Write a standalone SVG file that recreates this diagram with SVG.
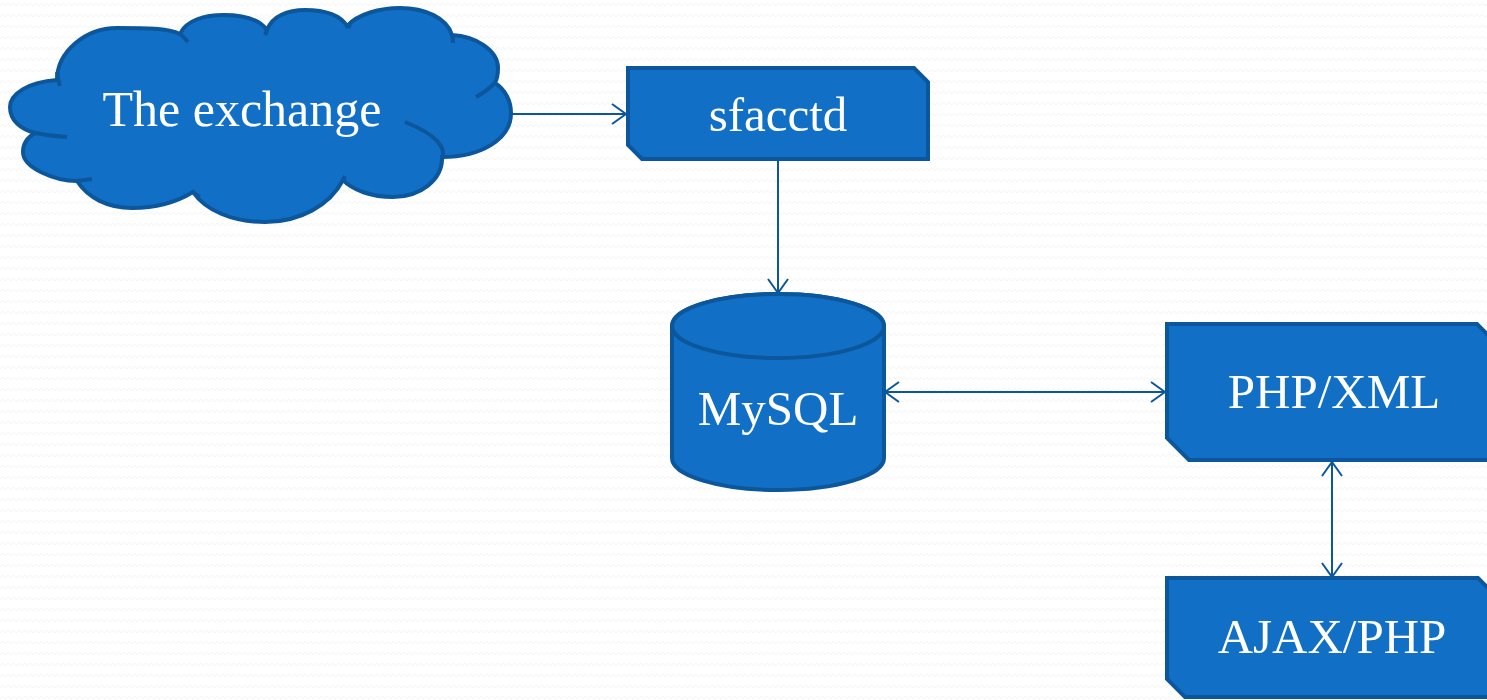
<svg xmlns="http://www.w3.org/2000/svg" width="1487" height="700" viewBox="0 0 1487 700">
<defs>
<style>
.shape{fill:#1170C6;stroke:#0C579C;stroke-width:4;stroke-linejoin:miter}
.inner{fill:none;stroke:#0C579C;stroke-width:4;stroke-linecap:butt}
.label{font-family:"Liberation Serif","DejaVu Serif",serif;font-size:49px;fill:#ffffff;text-anchor:middle}
.conn{fill:none;stroke:#0C579C;stroke-width:2}
</style>
<pattern id="zig" width="11" height="11" patternUnits="userSpaceOnUse">
<polyline points="0,6 2.75,3 5.5,6 8.25,3 11,6" fill="none" stroke="#f4f4f4" stroke-width="1"/>
</pattern>
<marker id="arr" markerUnits="userSpaceOnUse" viewBox="0 0 16 22" markerWidth="16" markerHeight="22" refX="15" refY="11" orient="auto-start-reverse">
<path d="M1,1 L15,11 L1,21" fill="none" stroke="#0C579C" stroke-width="2"/>
</marker>
</defs>
<rect width="1487" height="700" fill="#ffffff"/>
<rect width="1487" height="700" fill="url(#zig)"/>

<g id="connectors">
<path class="conn" d="M510,114 H626" marker-end="url(#arr)"/>
<path class="conn" d="M778,161 V293" marker-end="url(#arr)"/>
<path class="conn" d="M885,392 H1165" marker-start="url(#arr)" marker-end="url(#arr)"/>
<path class="conn" d="M1332,462 V577" marker-start="url(#arr)" marker-end="url(#arr)"/>
</g>

<g id="cloud">
<path class="shape" d="M57,80 C57,52 85,28 117,28 C145,28 168,28 180,34 C186,20 205,15 224,15 C245,15 260,20 267,30 C272,16 288,10 305,10 C325,10 340,15 347,26 C358,14 380,8 400,8 C425,8 447,18 452,35 C475,36 498,50 498,68 C498,74 497,79 495,83 C506,90 511,102 511,113 C511,140 480,157 442,157 C443,180 420,197 393,197 C372,197 352,190 343,180 C330,205 300,222 265,222 C232,222 205,210 193,192 C175,203 155,208 132,208 C108,208 88,198 77,181 C55,181 23,168 23,152 C23,143 28,137 35,133 C20,129 10,120 10,107 C10,94 28,82 57,80 Z"/>
<path class="inner" d="M57,72 Q58,80 60,86"/>
<path class="inner" d="M180,34 Q184,37 188,42"/>
<path class="inner" d="M267,30 Q266,33 265,35"/>
<path class="inner" d="M347,26 Q349,26 351,27"/>
<path class="inner" d="M452,35 Q453,39 453,43"/>
<path class="inner" d="M495,83 Q487,91 476,97"/>
<path class="inner" d="M405,122 Q450,140 442,160"/>
<path class="inner" d="M343,180 Q344,178 345,176"/>
<path class="inner" d="M193,192 Q196,195 200,197"/>
<path class="inner" d="M77,181 Q84,180 92,179"/>
<path class="inner" d="M35,133 Q50,136 67,137"/>
<text class="label" x="242" y="126" style="font-size:50px">The exchange</text>
</g>

<g id="sfacctd">
<path class="shape" d="M628,68 H914 L928,82 V159 H642 L628,145 Z"/>
<text class="label" x="778" y="131">sfacctd</text>
</g>

<g id="mysql">
<path class="shape" d="M672,326 V458 A106,32 0 0 0 884,458 V326 A106,32 0 0 0 672,326 Z"/>
<ellipse class="shape" cx="778" cy="326" rx="106" ry="32"/>
<text class="label" x="778" y="425">MySQL</text>
</g>

<g id="phpxml">
<path class="shape" d="M1167,324 H1477 L1499,346 V460 H1189 L1167,438 Z"/>
<text class="label" x="1334" y="408">PHP/XML</text>
</g>

<g id="ajaxphp">
<path class="shape" d="M1167,578 H1478 L1500,600 V697 H1185 L1167,679 Z"/>
<text class="label" x="1332" y="653">AJAX/PHP</text>
</g>
</svg>
